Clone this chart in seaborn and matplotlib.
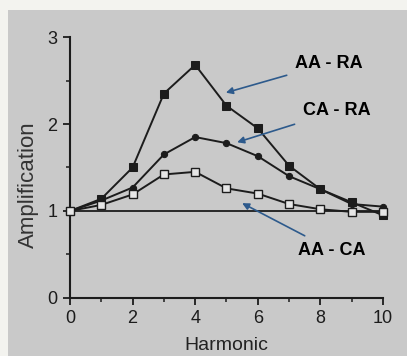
import pandas as pd
import numpy as np
import seaborn as sns
import matplotlib.pyplot as plt
from matplotlib.patches import Rectangle


harmonic = [0, 1, 2, 3, 4, 5, 6, 7, 8, 9, 10]
aa_ra = [1.0, 1.14, 1.50, 2.35, 2.68, 2.21, 1.95, 1.52, 1.25, 1.10, 0.95]
ca_ra = [1.0, 1.12, 1.27, 1.65, 1.85, 1.78, 1.63, 1.40, 1.25, 1.08, 1.05]
aa_ca = [1.0, 1.07, 1.19, 1.42, 1.45, 1.26, 1.20, 1.08, 1.02, 0.99, 0.99]

seriesNames = ['AA - RA', 'CA - RA', 'AA - CA']

data = pd.DataFrame({
    'Harmonic': harmonic * 3,
    'Amplification': aa_ra + ca_ra + aa_ca,
    'series': np.repeat(seriesNames, len(harmonic)),
})

sns.set_style('ticks')
plt.rcParams['font.family'] = ['Liberation Sans', 'DejaVu Sans']

bg = '#c9c9c9'
ink = '#1c1c1c'
arrowColor = '#2d5a8c'

fig = plt.figure(figsize=(4.07, 3.56), dpi=100, facecolor='#f3f3ef')
fig.patches.append(Rectangle((8 / 407, 0), 1, 1 - 10 / 356, transform=fig.transFigure,
                             facecolor=bg, edgecolor='none', zorder=-10))
ax = fig.add_axes([0.172, 0.163, 0.769, 0.733])
ax.set_facecolor(bg)

# horizontal reference at amplification 1
ax.axhline(1.0, color=ink, lw=1.3, zorder=1, clip_on=False)

markerStyles = {
    'AA - RA': dict(marker='s', markersize=5.5, markerfacecolor=ink, markeredgecolor=ink),
    'CA - RA': dict(marker='o', markersize=4.5, markerfacecolor=ink, markeredgecolor=ink),
    'AA - CA': dict(marker='s', markersize=5.5, markerfacecolor='#e6e6e6', markeredgecolor=ink, markeredgewidth=1),
}
for name in seriesNames:
    sub = data[data['series'] == name]
    sns.lineplot(data=sub, x='Harmonic', y='Amplification', ax=ax, color=ink, lw=1.4,
                 clip_on=False, zorder=3, **markerStyles[name])

ax.set_xlim(0, 10)
ax.set_ylim(0, 3)
ax.set_xticks([0, 2, 4, 6, 8, 10])
ax.set_xticks([1, 3, 5, 7, 9], minor=True)
ax.set_yticks([0, 1, 2, 3])
ax.set_yticks([0.5, 1.5, 2.5], minor=True)
ax.tick_params(axis='both', which='major', labelsize=13, length=5, width=1.3, color=ink, labelcolor=ink, pad=4)
ax.tick_params(axis='both', which='minor', length=3, width=1.1, color=ink)
for s in ['top', 'right']:
    ax.spines[s].set_visible(False)
for s in ['left', 'bottom']:
    ax.spines[s].set_linewidth(1.5)
    ax.spines[s].set_color(ink)

ax.set_xlabel('Harmonic', fontsize=14, color='#222222', labelpad=7)
ax.set_ylabel('Amplification', fontsize=16, color='#333333')
ax.yaxis.set_label_coords(-0.1, 0.433)

# arrow annotations
notes = [
    ('AA - RA', (4.98, 2.36), (7.2, 2.70)),
    ('CA - RA', (5.34, 1.79), (7.45, 2.15)),
    ('AA - CA', (5.50, 1.09), (7.3, 0.55)),
]
for label, tip, textPos in notes:
    ax.annotate(label, xy=tip, xytext=textPos, fontsize=13, fontweight='bold', color='black',
                ha='left', va='center', zorder=5,
                arrowprops=dict(arrowstyle='-|>', color=arrowColor, lw=1.2, mutation_scale=10,
                                shrinkA=4, shrinkB=0))

plt.savefig('out.png', dpi=100, facecolor=fig.get_facecolor())
